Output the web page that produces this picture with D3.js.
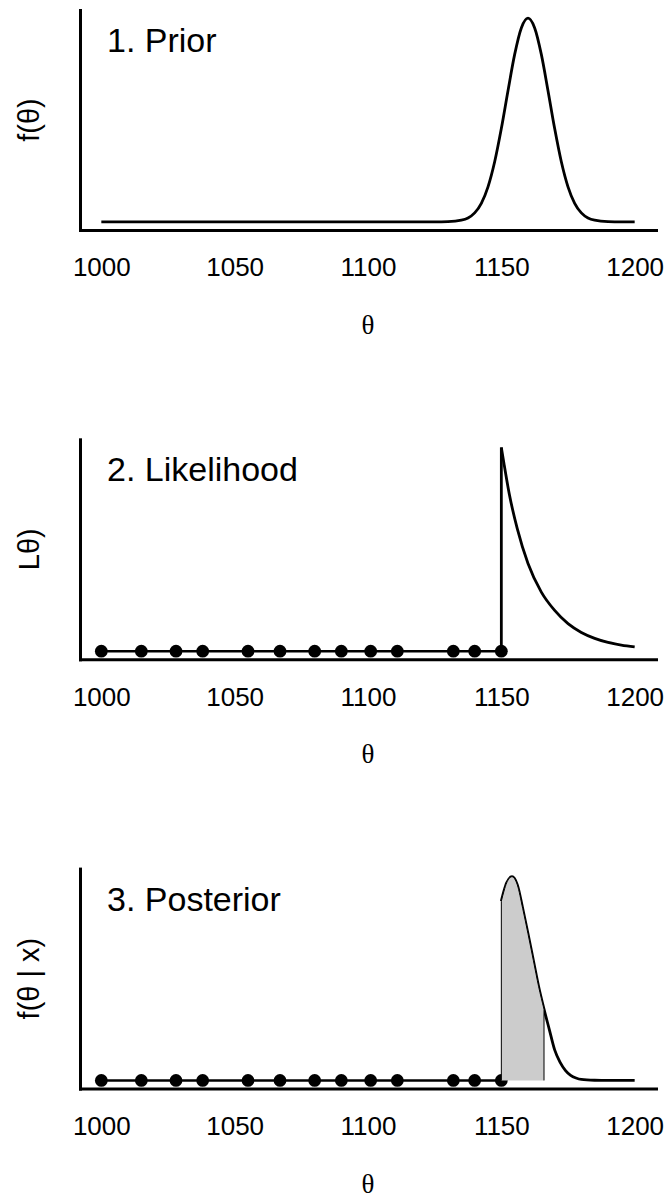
<!DOCTYPE html>
<html>
<head>
<meta charset="utf-8">
<script src="https://cdn.jsdelivr.net/npm/d3@7"></script>
<style>
  body { margin: 0; background: #fff; }
  text { font-family: "Liberation Sans", Arial, sans-serif; }
</style>
</head>
<body>
<div id="chart"></div>
<script>
const width = 667;
const height = 1199;

const xTicks = [1000, 1050, 1100, 1150, 1200];
const panelTitles = ["1. Prior", "2. Likelihood", "3. Posterior"];
const yLabels = ["f(θ)", "Lθ)", "f(θ | x)"];

const priorTheta = [1000, 1125, 1130, 1135, 1137.5, 1140, 1142.5, 1145, 1147.5, 1150, 1152.5, 1155, 1157.5, 1160,
  1162.5, 1165, 1167.5, 1170, 1172.5, 1175, 1177.5, 1180, 1182.5, 1185, 1190, 1195, 1200];
const priorDensity = [0, 0, 0.001, 0.008, 0.019, 0.044, 0.091, 0.172, 0.295, 0.458, 0.644, 0.822, 0.952, 1,
  0.952, 0.822, 0.644, 0.458, 0.295, 0.172, 0.091, 0.044, 0.019, 0.008, 0.001, 0, 0];

// observed values (dots)
const obsTheta = [1000, 1015, 1028, 1038, 1055, 1067, 1080, 1090, 1101, 1111, 1132, 1140, 1150];

// likelihood, zero below the largest observation
const likTheta = [1150, 1151, 1153, 1156, 1160, 1165, 1170, 1175, 1180, 1185, 1190, 1195, 1200];
const likValue = [1, 0.92, 0.77, 0.6, 0.43, 0.29, 0.2, 0.135, 0.092, 0.063, 0.043, 0.03, 0.021];

// posterior density
const postTheta = [1150, 1151, 1152, 1154, 1156, 1158, 1160, 1162, 1164, 1166, 1168, 1170, 1172, 1174,
  1176, 1178, 1180, 1185, 1190, 1200];
const postDensity = [0.88, 0.93, 0.97, 1, 0.96, 0.845, 0.72, 0.59, 0.46, 0.35, 0.25, 0.15, 0.09, 0.05,
  0.025, 0.012, 0.005, 0.001, 0, 0];

// shaded interval
const shadeRange = [1150, 1166];

const svg = d3.select("#chart")
  .append("svg")
  .attr("width", width)
  .attr("height", height);

const x = d3.scaleLinear().domain([992, 1208]).range([80, 656]);

const toPts = (ts, vs) => ts.map((t, i) => ({ t: t, v: vs[i] }));

panelTitles.forEach(function(title, i) {
  const top = 10 + i * 429.3;
  const y = d3.scaleLinear().domain([-0.04, 1.04]).range([top + 220, top]);
  const g = svg.append("g");

  const line = d3.line()
    .x(d => x(d.t))
    .y(d => y(d.v))
    .curve(d3.curveMonotoneX);

  // axes
  const xa = g.append("g")
    .attr("transform", `translate(0,${top + 220})`)
    .call(d3.axisBottom(x).tickValues(xTicks).tickFormat(d3.format("d"))
      .tickSize(0).tickPadding(28).tickSizeOuter(0));
  xa.attr("font-size", 26).attr("font-family", null);
  g.append("g")
    .attr("transform", "translate(80,0)")
    .call(d3.axisLeft(y).tickValues([]).tickSizeOuter(0));
  g.selectAll(".domain")
    .attr("stroke", "#000")
    .attr("stroke-width", 3)
    .attr("stroke-linecap", "square");

  // labels
  g.append("text")
    .attr("x", 107)
    .attr("y", top + 42)
    .attr("font-size", 34)
    .text(title);

  g.append("text")
    .attr("transform", `translate(39,${top + 110}) rotate(-90)`)
    .attr("text-anchor", "middle")
    .attr("font-size", 29)
    .text(yLabels[i]);

  g.append("text")
    .attr("x", 368)
    .attr("y", top + 324)
    .attr("text-anchor", "middle")
    .style("font-family", "'Liberation Serif', 'Times New Roman', serif")
    .attr("font-size", 27)
    .text("θ");

  if (i === 0) {
    g.append("path")
      .attr("d", line(toPts(priorTheta, priorDensity)))
      .attr("fill", "none")
      .attr("stroke", "#000")
      .attr("stroke-width", 2.8);
    return;
  }

  const lik = toPts(likTheta, likValue);
  const post = toPts(postTheta, postDensity);

  if (i === 2) {
    g.append("path")
      .attr("d", line(post))
      .attr("fill", "none")
      .attr("stroke", "#000")
      .attr("stroke-width", 2.8);
  }

  // data on the baseline
  g.append("path")
    .attr("d", d3.line().x(d => x(d)).y(y(0))([obsTheta[0], obsTheta[obsTheta.length - 1]]))
    .attr("stroke", "#000")
    .attr("stroke-width", 2.5);

  g.selectAll("circle")
    .data(obsTheta)
    .enter()
    .append("circle")
    .attr("cx", d => x(d))
    .attr("cy", y(0))
    .attr("r", 6.4)
    .attr("fill", "#000");

  if (i === 1) {
    g.append("line")
      .attr("x1", x(likTheta[0])).attr("x2", x(likTheta[0]))
      .attr("y1", y(0)).attr("y2", y(likValue[0]))
      .attr("stroke", "#000")
      .attr("stroke-width", 2.8);
    g.append("path")
      .attr("d", line(lik))
      .attr("fill", "none")
      .attr("stroke", "#000")
      .attr("stroke-width", 2.8);
    return;
  }

  // shaded interval drawn over the curve
  const shade = post.filter(d => d.t >= shadeRange[0] && d.t <= shadeRange[1]);
  const area = d3.area()
    .x(d => x(d.t))
    .y0(y(0))
    .y1(d => y(d.v))
    .curve(d3.curveMonotoneX);
  g.append("path")
    .attr("d", area(shade))
    .attr("fill", "#cccccc");
  g.append("path")
    .attr("d", line(shade))
    .attr("fill", "none")
    .attr("stroke", "#000")
    .attr("stroke-width", 1);
  [shade[0], shade[shade.length - 1]].forEach(function(d) {
    g.append("line")
      .attr("x1", x(d.t)).attr("x2", x(d.t))
      .attr("y1", y(0)).attr("y2", y(d.v))
      .attr("stroke", "#000")
      .attr("stroke-width", 1);
  });
});
</script>
</body>
</html>
